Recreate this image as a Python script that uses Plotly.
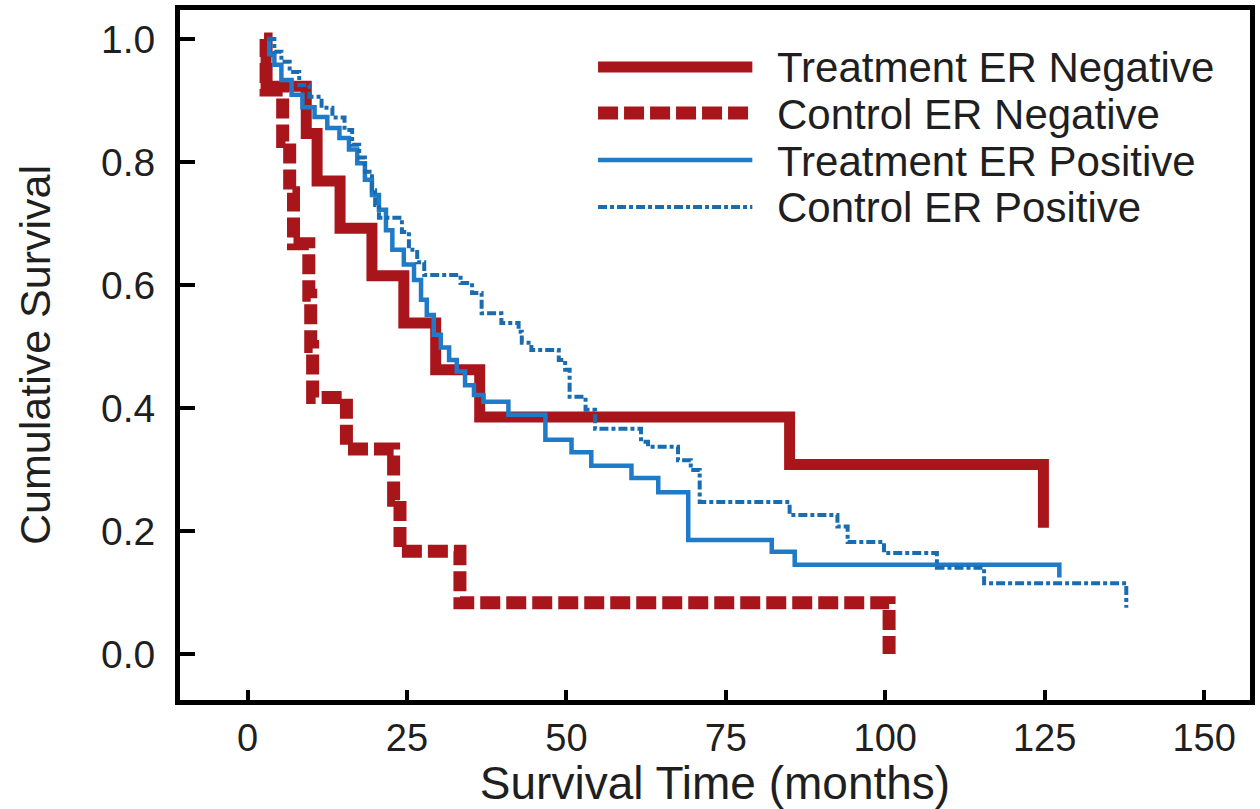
import plotly.graph_objects as go

# Kaplan-Meier step data: event times (months) and survival after each event
tn_time = [2.6, 2.9, 9.2, 10.9, 14.5, 19.5, 24.5, 29.5, 36.4, 85.0, 124.8]
tn_surv = [1.0, 0.923, 0.846, 0.769, 0.692, 0.615, 0.538, 0.462, 0.385, 0.308, 0.205]

cn_time = [2.6, 2.9, 5.5, 6.6, 7.2, 9.6, 9.9, 10.2, 15.5, 22.9, 23.9, 33.3, 100.6]
cn_surv = [1.0, 0.917, 0.833, 0.75, 0.667, 0.583, 0.5, 0.417, 0.333, 0.25, 0.167, 0.083, 0.0]

tp_time = [3.1, 3.4, 4.2, 5.3, 6.9, 8.6, 10.5, 12.5, 14.4, 15.9, 17.2, 18.4, 19.5,
           20.6, 21.7, 22.7, 24.5, 26.1, 27.2, 28.1, 29.2, 30.3, 31.6, 32.8, 34.1,
           35.5, 37.0, 40.9, 46.7, 50.8, 53.9, 60.2, 64.4, 69.1, 82.2, 85.8, 127.3]
tp_surv = [1.0, 0.975, 0.958, 0.933, 0.909, 0.889, 0.873, 0.855, 0.839, 0.82, 0.798,
           0.771, 0.746, 0.722, 0.689, 0.657, 0.633, 0.608, 0.576, 0.551, 0.519, 0.498,
           0.478, 0.459, 0.437, 0.421, 0.41, 0.389, 0.348, 0.328, 0.306, 0.286, 0.263,
           0.185, 0.166, 0.145, 0.124]

cp_time = [3.1, 4.2, 5.3, 6.6, 8.1, 9.7, 11.6, 13.3, 15.2, 16.4, 17.5, 18.4, 19.5,
           20.0, 20.6, 24.2, 25.3, 26.6, 27.7, 33.4, 35.2, 36.7, 39.8, 42.5, 43.0,
           44.5, 48.8, 49.8, 50.5, 53.0, 54.5, 61.7, 62.8, 67.5, 69.5, 70.9, 85.0,
           92.5, 94.1, 99.8, 108.1, 115.5, 137.8]
cp_surv = [1.0, 0.979, 0.963, 0.946, 0.925, 0.906, 0.888, 0.872, 0.852, 0.828, 0.807,
           0.784, 0.754, 0.73, 0.709, 0.686, 0.657, 0.637, 0.616, 0.603, 0.587, 0.554,
           0.538, 0.524, 0.506, 0.494, 0.478, 0.462, 0.418, 0.397, 0.366, 0.345, 0.337,
           0.315, 0.299, 0.247, 0.226, 0.207, 0.182, 0.164, 0.140, 0.115, 0.075]

series_names = ["Treatment ER Negative", "Control ER Negative",
                "Treatment ER Positive", "Control ER Positive"]

x_ticks = [0, 25, 50, 75, 100, 125, 150]
y_ticks = [0.0, 0.2, 0.4, 0.6, 0.8, 1.0]
y_tick_text = ["0.0", "0.2", "0.4", "0.6", "0.8", "1.0"]

RED = "#a8161c"
BLUE = "#1f7ac8"
BLUE_DK = "#1a6cb0"
FONT = "Liberation Sans, Arial, sans-serif"
TEXT = "#1f1f1f"

styles = [
    dict(color=RED, width=11, dash="solid"),
    dict(color=RED, width=13, dash="20px,6px"),
    dict(color=BLUE, width=4.5, dash="solid"),
    dict(color=BLUE_DK, width=4, dash="9px,3px,4px,3px"),
]

fig = go.Figure()
for name, t, s, st in zip(series_names,
                          [tn_time, cn_time, tp_time, cp_time],
                          [tn_surv, cn_surv, tp_surv, cp_surv],
                          styles):
    fig.add_trace(go.Scatter(
        x=t, y=s, mode="lines", name=name, showlegend=False,
        line=dict(shape="hv", color=st["color"], width=st["width"], dash=st["dash"]),
    ))

# Key in the upper right: a line sample and a label per series
key_rows = [0.9174, 0.8507, 0.7826, 0.7145]
key_x0, key_x1, key_text_x = 0.3907, 0.5349, 0.5563
for name, st, yy in zip(series_names, styles, key_rows):
    fig.add_shape(type="line", xref="paper", yref="paper",
                  x0=key_x0, x1=key_x1, y0=yy, y1=yy,
                  line=dict(color=st["color"], width=st["width"], dash=st["dash"]))
    fig.add_annotation(xref="paper", yref="paper", x=key_text_x, y=yy,
                       xanchor="left", yanchor="middle", showarrow=False,
                       text=name, yshift=-1,
                       font=dict(size=42, family=FONT, color=TEXT))

axis_common = dict(
    showgrid=False, zeroline=False, showline=True, linecolor="black", linewidth=5,
    mirror=True, ticks="inside", tickcolor="black", tickwidth=4,
)

fig.update_layout(
    width=1260, height=809,
    margin=dict(l=180, r=5, t=10, b=109),
    paper_bgcolor="white", plot_bgcolor="white",
    font=dict(family=FONT, color=TEXT),
    xaxis=dict(
        range=[-10.6, 157.2], tickvals=x_ticks, ticklen=10,
        tickfont=dict(size=38, family=FONT),
        title=dict(text="Survival Time (months)", font=dict(size=46, family=FONT), standoff=10),
        **axis_common,
    ),
    yaxis=dict(
        range=[-0.075, 1.047], tickvals=y_ticks, ticktext=y_tick_text, ticklen=15,
        tickfont=dict(size=39, family=FONT), ticklabelstandoff=12,
        title=dict(text="Cumulative Survival", font=dict(size=43, family=FONT), standoff=38),
        **axis_common,
    ),
    showlegend=False,
)

fig.write_html("out.html")
